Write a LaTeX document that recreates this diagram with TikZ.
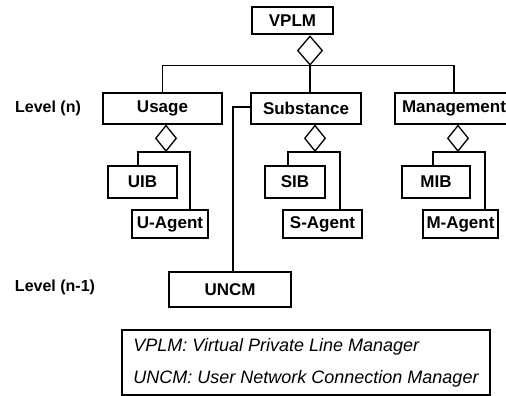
\documentclass[tikz,border=0pt]{standalone}
\usepackage{fontspec}
\setmainfont{Liberation Sans}
\usetikzlibrary{shapes.geometric, positioning}
\tikzset{
  block/.style={
    rectangle, draw=black, line width=1.3pt,
    fill=white, inner sep=0pt, text centered,
    font=\fontsize{17}{19}\selectfont\bfseries,
  },
  mainblock/.style={block, line width=2.8pt},
  agg/.style={
    diamond, draw=black, line width=1.3pt,
    fill=white, inner sep=0pt, anchor=north,
    minimum width=21pt, minimum height=26pt,
  },
  link/.style={line width=1.3pt, color=black},
  level/.style={font=\fontsize{16}{18}\selectfont\bfseries},
  legend/.style={
    rectangle, draw=black, line width=2pt,
    align=left, inner sep=0pt,
    font=\fontsize{18}{32}\selectfont\itshape,
  },
}

\begin{document}
\begin{tikzpicture}[x=1pt, y=-1pt]
  \useasboundingbox (0,0) rectangle (506,396);

  % top manager
  \node[mainblock, minimum width=81pt, minimum height=27pt] (vplm) at (292.5,20.5) {VPLM};
  \node[agg, minimum width=25pt, minimum height=29pt] (dvplm) at ([xshift=17.5pt]vplm.south) {};

  % level (n)
  \node[level] (lvn) at (48,108) {Level (n)};
  \node[block, minimum width=119pt, minimum height=31pt] (usage) at (162.5,108.5) {Usage};
  \node[block, minimum width=110pt, minimum height=31pt] (subst) at (306,108.5) {Substance};
  \node[block, minimum width=118pt, minimum height=31pt] (mgmt) at (454,108.5) {Management};

  \node[agg] (dusage) at ([xshift=3.5pt]usage.south) {};
  \node[agg] (dsubst) at ([xshift=9pt]subst.south) {};
  \node[agg] (dmgmt) at ([xshift=4pt]mgmt.south) {};

  \node[block, minimum width=69pt, minimum height=32pt] (uib) at (142.5,182) {UIB};
  \node[block, minimum width=76pt, minimum height=28pt] (uagent) at (170,224) {U-Agent};
  \node[block, minimum width=60pt, minimum height=32pt] (sib) at (295,182) {SIB};
  \node[block, minimum width=79pt, minimum height=28pt] (sagent) at (322.5,224) {S-Agent};
  \node[block, minimum width=68pt, minimum height=32pt] (mib) at (436,182) {MIB};
  \node[block, minimum width=75pt, minimum height=28pt] (magent) at (460.5,224) {M-Agent};

  % level (n-1)
  \node[level] (lvn1) at (55,287) {Level (n-1)};
  \node[mainblock, minimum width=122pt, minimum height=35pt] (uncm) at (230,289.5) {UNCM};

  \node[legend, minimum width=368pt, minimum height=65pt] (key) at (306,362.5)
    {VPLM: Virtual Private Line Manager\\UNCM: User Network Connection Manager};

  \draw[link] (usage.north) |- (dvplm.south) -| (mgmt.north);
  \draw[link] (dvplm.south) -- (dvplm.south |- subst.north);
  \draw[link] ([xshift=-4.5pt]uib.north) |- (dusage.south) -| ([xshift=20pt]uagent.north);
  \draw[link] ([xshift=-7pt]sib.north) |- (dsubst.south) -| ([xshift=17.5pt]sagent.north);
  \draw[link] ([xshift=-3pt]mib.north) |- (dmgmt.south) -| ([xshift=24.5pt]magent.north);
  \draw[link] ([yshift=1.5pt]subst.west) -| ([xshift=3pt]uncm.north);

\end{tikzpicture}
\end{document}
